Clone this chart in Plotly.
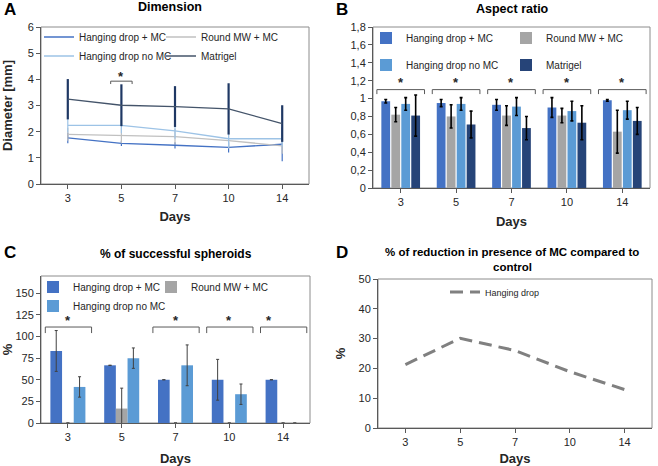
import plotly.graph_objects as go

days = ["3", "5", "7", "10", "14"]
series = ["Hanging drop + MC", "Round MW + MC", "Hanging drop no MC", "Matrigel"]

# Panel A: diameter [mm]
diam_hd_mc = [1.76, 1.55, 1.48, 1.40, 1.52]
diam_rmw_mc = [1.90, 1.86, 1.81, 1.66, 1.46]
diam_hd_no = [2.24, 2.24, 2.03, 1.73, 1.73]
diam_matrigel = [3.24, 3.01, 2.96, 2.87, 2.31]
diam_err_hd_mc = [0.20, 0.10, 0.12, 0.20, 0.65]
diam_err_rmw_mc = [0.25, 0.30, 0.30, 0.30, 0.30]
diam_err_hd_no = [0.27, 0.30, 0.30, 0.35, 0.30]
diam_err_matrigel = [0.77, 0.80, 0.78, 0.98, 0.70]

# Panel B: aspect ratio
ar_hd_mc = [0.97, 0.95, 0.93, 0.90, 0.98]
ar_rmw_mc = [0.82, 0.80, 0.81, 0.81, 0.63]
ar_hd_no = [0.94, 0.94, 0.91, 0.86, 0.87]
ar_matrigel = [0.81, 0.71, 0.67, 0.73, 0.75]
ar_err_hd_mc = [0.02, 0.04, 0.06, 0.11, 0.01]
ar_err_rmw_mc = [0.08, 0.13, 0.11, 0.08, 0.24]
ar_err_hd_no = [0.07, 0.07, 0.10, 0.11, 0.10]
ar_err_matrigel = [0.23, 0.15, 0.13, 0.19, 0.15]

# Panel C: % of successful spheroids
succ_hd_mc = [83.3, 66.7, 50.0, 50.0, 50.0]
succ_rmw_mc = [0.0, 16.7, 0.0, 0.0, 0.0]
succ_hd_no = [41.7, 75.0, 66.7, 33.3, 0.0]
succ_err_hd_mc = [23.6, 0.0, 0.0, 23.6, 0.0]
succ_err_rmw_mc = [0.0, 23.6, 0.0, 0.0, 0.0]
succ_err_hd_no = [11.8, 11.8, 23.6, 11.8, 0.0]

# Panel D: % reduction
red_hd = [21.3, 30.1, 26.0, 18.9, 12.9]

# significance brackets (category index of group)
sigA = [1]
sigB = [0, 1, 2, 3, 4]
sigC = [0, 2, 3, 4]

FONT = "Liberation Sans, Arial, sans-serif"
TXT = "#262626"
C_HD = "#4472C4"
C_RMW_LINE = "#C0C0C0"
C_RMW = "#A5A5A5"
C_HDNO_LINE = "#9DC3E6"
C_HDNO = "#5B9BD5"
C_MAT_LINE = "#44546A"
C_MAT = "#264478"

fig = go.Figure()

# ---------- Panel A ----------
a_data = [
    (series[0], diam_hd_mc, diam_err_hd_mc, C_HD, C_HD, 1.2, "legend"),
    (series[1], diam_rmw_mc, diam_err_rmw_mc, C_RMW_LINE, C_RMW_LINE, 1.2, "legend"),
    (series[2], diam_hd_no, diam_err_hd_no, C_HDNO_LINE, C_HDNO_LINE, 1.2, "legend2"),
    (series[3], diam_matrigel, diam_err_matrigel, C_MAT_LINE, "#1F3864", 2.2, "legend2"),
]
for name, y, e, col, ecol, eth, lg in a_data:
    fig.add_trace(go.Scatter(
        x=days, y=y, name=name, mode="lines", line=dict(color=col, width=1.3),
        error_y=dict(type="data", array=e, color=ecol, thickness=eth, width=0),
        xaxis="x", yaxis="y", legend=lg))

# ---------- Panel B ----------
b_data = [
    (series[0], ar_hd_mc, ar_err_hd_mc, C_HD, "legend3"),
    (series[1], ar_rmw_mc, ar_err_rmw_mc, C_RMW, "legend3"),
    (series[2], ar_hd_no, ar_err_hd_no, C_HDNO, "legend4"),
    (series[3], ar_matrigel, ar_err_matrigel, C_MAT, "legend4"),
]
for name, y, e, col, lg in b_data:
    fig.add_trace(go.Bar(
        x=days, y=y, name=name, marker=dict(color=col, line=dict(width=0)),
        error_y=dict(type="data", array=e, color="black", thickness=1.6, width=1.5),
        xaxis="x2", yaxis="y2", legend=lg))

# ---------- Panel C ----------
c_data = [
    (series[0], succ_hd_mc, succ_err_hd_mc, C_HD, "legend5"),
    (series[1], succ_rmw_mc, succ_err_rmw_mc, C_RMW, "legend5"),
    (series[2], succ_hd_no, succ_err_hd_no, C_HDNO, "legend6"),
]
C_BAR_W = 0.217
for i, (name, y, e, col, lg) in enumerate(c_data):
    fig.add_trace(go.Bar(
        x=days, y=y, name=name, marker=dict(color=col, line=dict(width=0)),
        width=C_BAR_W, offset=-1.5 * C_BAR_W + i * C_BAR_W,
        error_y=dict(type="data", array=e, color="#404040", thickness=1, width=1.5),
        xaxis="x3", yaxis="y3", legend=lg))

# ---------- Panel D ----------
fig.add_trace(go.Scatter(
    x=days, y=red_hd, name="Hanging drop", mode="lines",
    line=dict(color="#808080", width=3, dash="13px,7px"),
    xaxis="x4", yaxis="y4", legend="legend7"))

W, H = 658, 466
def px_x(p):
    return p / W
def px_y(p):
    return 1 - p / H

dom = {
    "A": ([41, 309], [27, 184]),
    "B": ([373, 650], [27, 188]),
    "C": ([41, 310], [276, 423]),
    "D": ([378, 652], [279, 428]),
}

def xax(d, anchor, title, standoff):
    return dict(domain=[px_x(d[0][0]), px_x(d[0][1])], anchor=anchor, type="category",
                range=[-0.5, 4.5], showgrid=False, zeroline=False, showline=True,
                linecolor="#595959", linewidth=1, ticks="outside", ticklen=4,
                tickcolor="#595959", tickfont=dict(size=11, color=TXT, family=FONT),
                title=dict(text=title, font=dict(size=13, color=TXT, family=FONT),
                           standoff=standoff))

def yax(d, anchor, rng, dtick, title, standoff):
    return dict(domain=[px_y(d[1][1]), px_y(d[1][0])], anchor=anchor, range=rng, dtick=dtick,
                showgrid=False, zeroline=False, showline=True, linecolor="#595959",
                linewidth=1, ticks="outside", ticklen=4, tickcolor="#595959",
                tickfont=dict(size=11, color=TXT, family=FONT),
                title=dict(text=title, font=dict(size=13, color=TXT, family=FONT),
                           standoff=standoff))

layout = dict(
    width=W, height=H, margin=dict(l=0, r=0, t=0, b=0, autoexpand=False),
    paper_bgcolor="white", plot_bgcolor="white",
    font=dict(family=FONT, color=TXT), separators=",.",
    barmode="group", bargap=0.28, bargroupgap=0.12,
    xaxis=xax(dom["A"], "y", "<b>Days</b>", 8),
    yaxis=yax(dom["A"], "x", [0, 6], 1, "<b>Diameter [mm]</b>", 13),
    xaxis2=xax(dom["B"], "y2", "<b>Days</b>", 9),
    yaxis2=yax(dom["B"], "x2", [0, 1.8], 0.2, "", 4),
    xaxis3=xax(dom["C"], "y3", "<b>Days</b>", 12),
    yaxis3=yax(dom["C"], "x3", [0, 170], 25, "<b>%</b>", 8),
    xaxis4=xax(dom["D"], "y4", "<b>Days</b>", 6),
    yaxis4=yax(dom["D"], "x4", [0, 50], 10, "<b>%</b>", 9),
)

def leg(xp, yp, ew, size=10):
    return dict(orientation="h", x=px_x(xp), y=px_y(yp), xanchor="left", yanchor="middle",
                entrywidth=ew, bgcolor="rgba(0,0,0,0)", traceorder="normal",
                font=dict(size=size, color=TXT, family=FONT), itemclick=False)

layout["legend"] = leg(39, 37, 77)
layout["legend2"] = leg(39, 56, 77)
layout["legend3"] = leg(366, 38, 95)
layout["legend4"] = leg(366, 65, 95)
layout["legend5"] = leg(33, 287, 73)
layout["legend6"] = leg(33, 306, 0)
layout["legend7"] = leg(445, 292, 60, size=9)

fig.update_layout(**layout)

shapes = []
annots = []
# plot boxes
for xr, yr in [("x", "y"), ("x2", "y2"), ("x3", "y3"), ("x4", "y4")]:
    shapes.append(dict(type="rect", xref=xr + " domain", yref=yr + " domain", x0=0, x1=1, y0=0, y1=1,
                       line=dict(color="#8C8C8C", width=1), layer="below"))

def bracket(xr, yr, c, half_l, half_r, y, drop, star_y, star_dx=0.0):
    x0, x1 = c - half_l, c + half_r
    for (a, b, cc, d) in [(x0, y - drop, x0, y), (x0, y, x1, y), (x1, y, x1, y - drop)]:
        shapes.append(dict(type="line", xref=xr, yref=yr, x0=a, y0=b, x1=cc, y1=d,
                           line=dict(color="#595959", width=1)))
    annots.append(dict(xref=xr, yref=yr, x=c + star_dx, y=star_y, text="<b>*</b>", showarrow=False,
                       font=dict(size=13, color=TXT, family=FONT), yanchor="middle"))

for c in sigA:
    bracket("x", "y", c, 0.2, 0.2, 3.93, 0.11, 4.12)
for c in sigB:
    bracket("x2", "y2", c, 0.43, 0.43, 1.10, 0.05, 1.18)
for c in sigC:
    dx = -0.26 if c == 4 else 0.0
    bracket("x3", "y3", c, 0.42, 0.44, 111, 7, 119, dx)

def txt(x, y, s, size, bold=True, xanchor="center"):
    annots.append(dict(xref="paper", yref="paper", x=px_x(x), y=px_y(y), text=("<b>%s</b>" % s) if bold else s,
                       showarrow=False, xanchor=xanchor, yanchor="middle",
                       font=dict(size=size, color="black", family=FONT)))

txt(2, 9, "A", 17, xanchor="left")
txt(334, 10, "B", 17, xanchor="left")
txt(2, 252, "C", 17, xanchor="left")
txt(334, 252, "D", 17, xanchor="left")
txt(170, 7, "Dimension", 12.5)
txt(512, 9, "Aspect ratio", 12.5)
txt(176, 254, "% of successful spheroids", 12)
txt(512, 252, "% of reduction in presence of MC compared to", 11.5)
txt(512, 267, "control", 11.5)

fig.update_layout(shapes=shapes, annotations=annots)
fig.write_html("out.html", config={"displayModeBar": False},
               post_script="document.body.style.margin='0px';")
